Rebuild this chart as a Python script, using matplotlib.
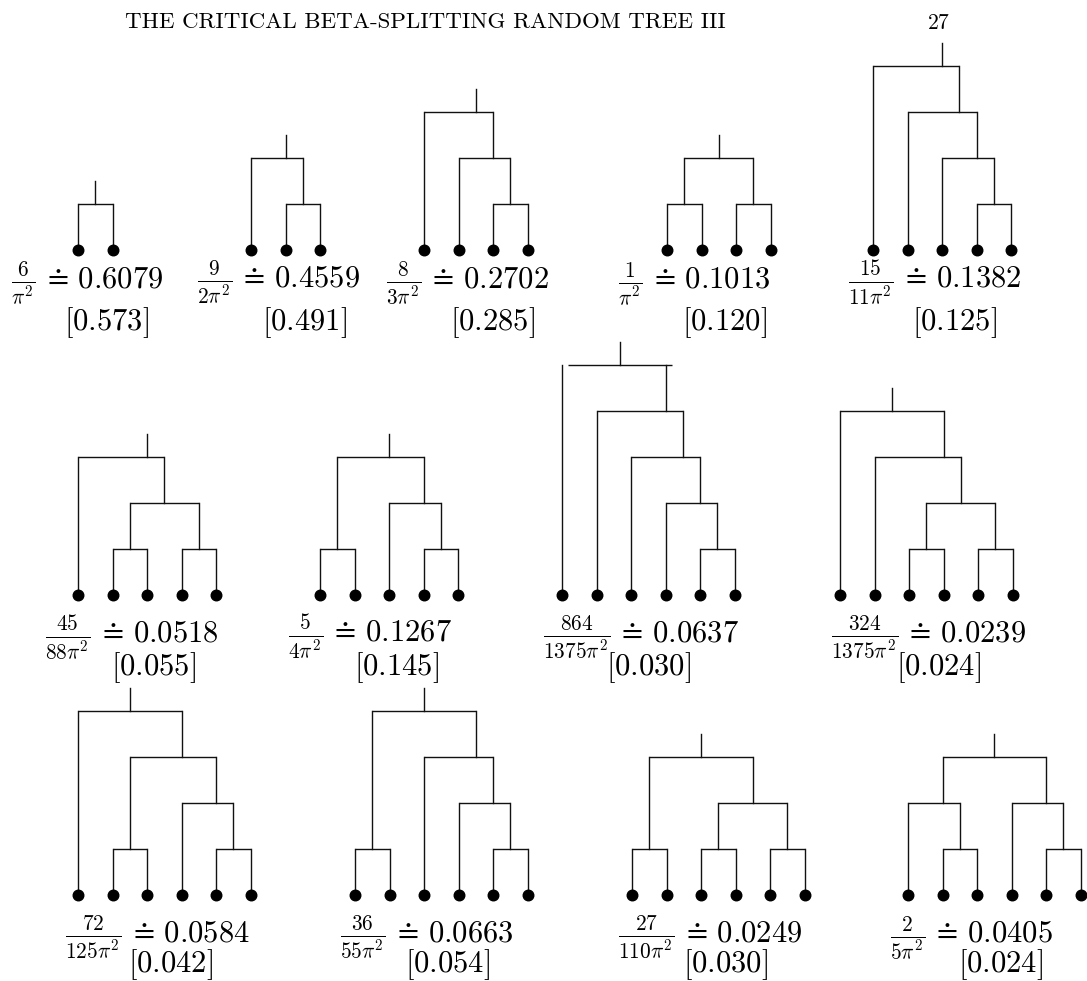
import matplotlib
matplotlib.use("Agg")
import matplotlib.pyplot as plt

plt.rcParams['mathtext.fontset'] = 'cm'
plt.rcParams['font.family'] = ['cmr10', 'DejaVu Serif']
plt.rcParams['axes.formatter.use_mathtext'] = True

# tree shapes: 0 is a leaf, a tuple is a split (left, right)
shapes = [
    (0, 0),
    (0, (0, 0)),
    (0, (0, (0, 0))),
    ((0, 0), (0, 0)),
    (0, (0, (0, (0, 0)))),
    (0, ((0, 0), (0, 0))),
    ((0, 0), (0, (0, 0))),
    (0, (0, (0, (0, (0, 0))))),
    (0, (0, ((0, 0), (0, 0)))),
    (0, ((0, 0), (0, (0, 0)))),
    ((0, 0), (0, (0, (0, 0)))),
    ((0, 0), ((0, 0), (0, 0))),
    ((0, (0, 0)), (0, (0, 0))),
]
fractions = [r'\frac{6}{\pi^2}', r'\frac{9}{2\pi^2}', r'\frac{8}{3\pi^2}', r'\frac{1}{\pi^2}',
             r'\frac{15}{11\pi^2}', r'\frac{45}{88\pi^2}', r'\frac{5}{4\pi^2}',
             r'\frac{864}{1375\pi^2}', r'\frac{324}{1375\pi^2}', r'\frac{72}{125\pi^2}',
             r'\frac{36}{55\pi^2}', r'\frac{27}{110\pi^2}', r'\frac{2}{5\pi^2}']
exact = ['0.6079', '0.4559', '0.2702', '0.1013', '0.1382', '0.0518', '0.1267',
         '0.0637', '0.0239', '0.0584', '0.0663', '0.0249', '0.0405']
simulated = ['0.573', '0.491', '0.285', '0.120', '0.125', '0.055', '0.145',
             '0.030', '0.024', '0.042', '0.054', '0.030', '0.024']

# layout (pixels)
leaf_x0 = [78, 251, 424, 667, 873, 78, 320, 562, 840, 78, 355, 632, 908]
row_of = [0, 0, 0, 0, 0, 1, 1, 1, 1, 2, 2, 2, 2]
leaf_y = [250, 595, 895]
label_y = [288, 642, 942]
bracket_y = [330, 675, 972]
label_x = [11, 197, 386, 618, 848, 45, 288, 543, 831, 65, 340, 618, 890]
bracket_x = [106, 304, 492, 724, 954, 153, 396, 648, 938, 170, 447, 725, 1000]
root_mid = [False] * 7 + [True, True, True, True, True, True]
root_shift = [0] * 7 + [6] + [0] * 5

DX = 34.5
LEVEL = 46

fig = plt.figure(figsize=(10.87, 9.81), dpi=100)
ax = fig.add_axes([0, 0, 1, 1])
ax.set_xlim(0, 1087)
ax.set_ylim(981, 0)
ax.axis('off')

lw = 1.0
col = '#111111'


def draw(node, x0, y0, counter, is_root=False, mid=False, shift=0):
    # returns (x, height, leaf xs)
    if node == 0:
        x = x0 + counter[0] * DX
        counter[0] += 1
        ax.plot([x], [y0], 'o', color='black', markersize=7.6, zorder=3)
        return x, 0, [x]
    lx, lh, lleaves = draw(node[0], x0, y0, counter)
    rx, rh, rleaves = draw(node[1], x0, y0, counter)
    h = max(lh, rh) + 1
    leaves = lleaves + rleaves
    ytop = y0 - h * LEVEL
    if is_root and mid:
        x = (lx + rx) / 2 + shift
    else:
        x = sum(leaves) / len(leaves)
    ax.plot([lx + shift, rx + shift], [ytop, ytop], color=col, lw=lw, solid_capstyle='butt')
    ax.plot([lx, lx], [y0 - lh * LEVEL, ytop], color=col, lw=lw)
    ax.plot([rx, rx], [y0 - rh * LEVEL, ytop], color=col, lw=lw)
    return x, h, leaves


for i, shape in enumerate(shapes):
    r = row_of[i]
    x, h, _ = draw(shape, leaf_x0[i], leaf_y[r], [0], True, root_mid[i], root_shift[i])
    ytop = leaf_y[r] - h * LEVEL
    ax.plot([x, x], [ytop, ytop - LEVEL / 2], color=col, lw=lw)
    ax.text(label_x[i], label_y[r], '$' + fractions[i] + r'\,\doteq\,' + exact[i] + '$',
            fontsize=22, ha='left', va='baseline')
    ax.text(bracket_x[i], bracket_y[r], '$[' + simulated[i] + ']$',
            fontsize=22, ha='center', va='baseline')

ax.text(125, 28, 'THE CRITICAL BETA-SPLITTING RANDOM TREE III', fontsize=16.5,
        ha='left', va='baseline')
ax.text(939, 29, '27', fontsize=15.5, ha='center', va='baseline')

fig.savefig('out.png', dpi=100)
